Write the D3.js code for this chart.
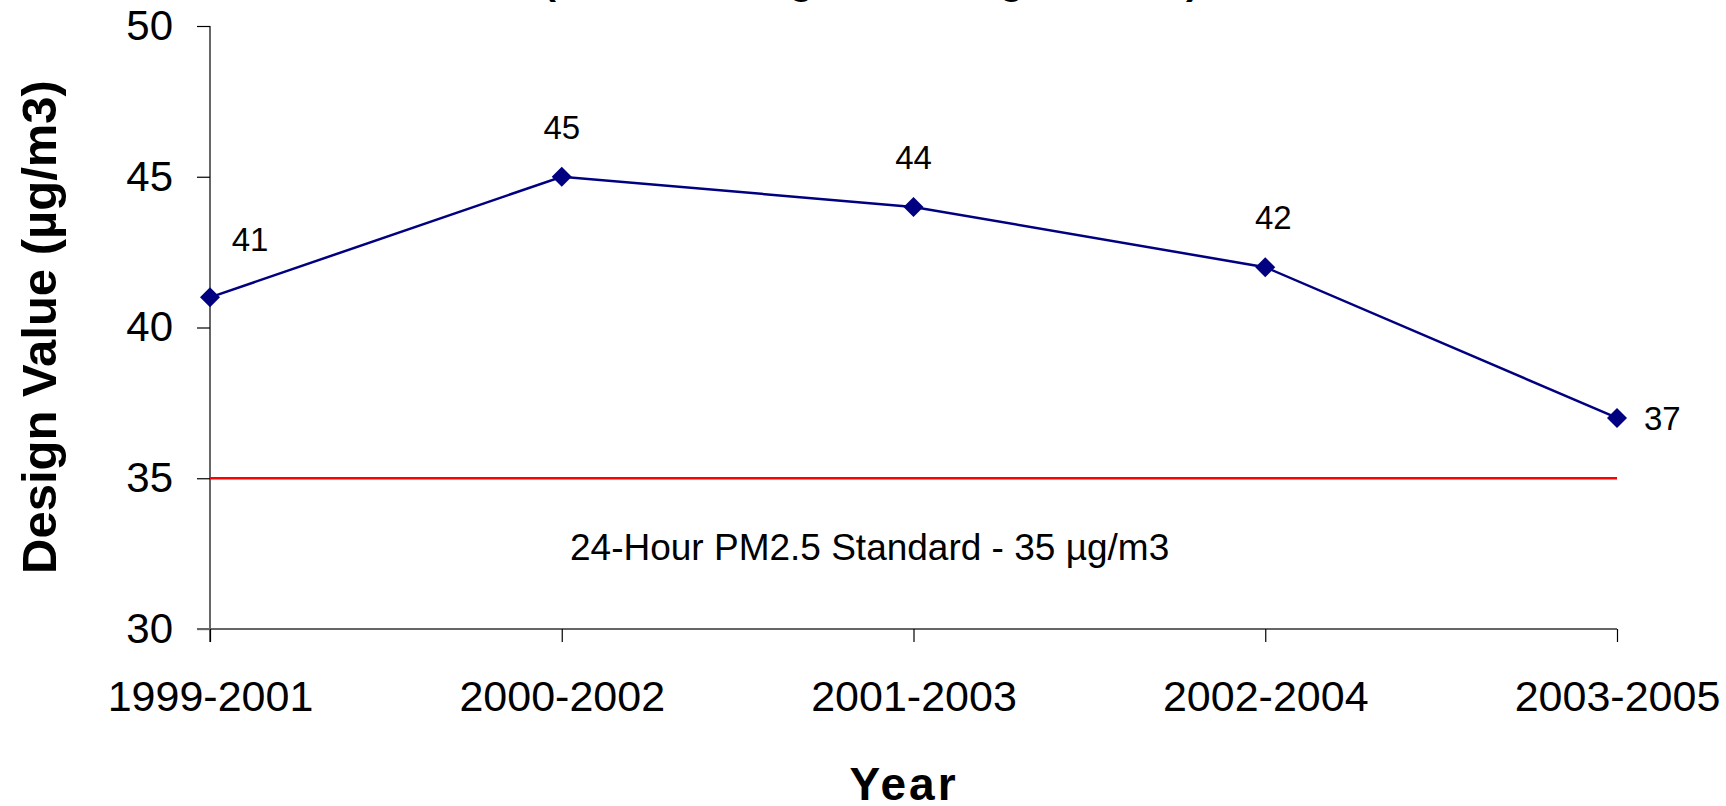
<!DOCTYPE html>
<html>
<head>
<meta charset="utf-8">
<script src="https://cdn.jsdelivr.net/npm/d3@7"></script>
<style>
  body { margin: 0; background: #fff; }
  text { font-family: "Liberation Sans", Arial, sans-serif; }
</style>
</head>
<body>
<div id="vis"></div>
<script>
var periods = ["1999-2001", "2000-2002", "2001-2003", "2002-2004", "2003-2005"];
var designValues = [41, 45, 44, 42, 37];
var yTicks = [30, 35, 40, 45, 50];
var standardValue = 35;
var standardLabel = "24-Hour PM2.5 Standard - 35 \u00b5g/m3";
var titleText = "(3-Year Average at the Highest Site)";

var W = 1726, H = 806;

var svg = d3.select("#vis")
  .append("svg")
  .attr("width", W)
  .attr("height", H);

var x = d3.scalePoint().domain(periods).range([210, 1617]).padding(0);
var y = d3.scaleLinear().domain([30, 50]).range([629, 26]);

// title, mostly cropped off the top
svg.append("text")
  .attr("x", 543)
  .attr("y", -6)
  .attr("font-size", 39)
  .attr("font-weight", "bold")
  .text(titleText);

// y axis
var yAxis = svg.append("g")
  .attr("transform", "translate(210,0)")
  .call(d3.axisLeft(y).tickValues(yTicks).tickSize(13).tickPadding(24).tickFormat(d3.format("d")));
yAxis.select(".domain").attr("stroke", "#000").attr("stroke-width", 1.2).attr("d", "M0," + y(50) + "V" + 642);
yAxis.selectAll(".tick line").attr("stroke", "#000").attr("stroke-width", 1.2);
yAxis.selectAll(".tick text").attr("font-size", 42).attr("fill", "#000")
  .attr("font-family", "Liberation Sans, Arial, sans-serif");

// x axis
var xAxis = svg.append("g")
  .attr("transform", "translate(0," + y(30) + ")")
  .call(d3.axisBottom(x).tickSize(13).tickPadding(0));
xAxis.select(".domain").attr("stroke", "#666").attr("stroke-width", 2).attr("d", "M197,0H1617");
xAxis.selectAll(".tick line").attr("stroke", "#000").attr("stroke-width", 1.2);
xAxis.selectAll(".tick text").attr("font-size", 43).attr("fill", "#000")
  .attr("font-family", "Liberation Sans, Arial, sans-serif")
  .attr("dy", null).attr("y", 82);

// standard line
svg.append("line")
  .attr("x1", x(periods[0])).attr("x2", x(periods[periods.length - 1]))
  .attr("y1", y(standardValue)).attr("y2", y(standardValue))
  .attr("stroke", "#ff0000").attr("stroke-width", 2.5);

svg.append("text")
  .attr("x", 570)
  .attr("y", y(standardValue) + 82)
  .attr("font-size", 37)
  .text(standardLabel);

// series line
var line = d3.line()
  .x(function(d, i) { return x(periods[i]); })
  .y(function(d) { return y(d); });

svg.append("path")
  .datum(designValues)
  .attr("d", line)
  .attr("fill", "none")
  .attr("stroke", "#000080")
  .attr("stroke-width", 2.5);

svg.selectAll(".pt")
  .data(designValues)
  .enter().append("path")
  .attr("class", "pt")
  .attr("transform", function(d, i) { return "translate(" + x(periods[i]) + "," + y(d) + ")"; })
  .attr("d", "M0,-10L10,0L0,10L-10,0Z")
  .attr("fill", "#000080");

// data labels
var last = designValues.length - 1;
svg.selectAll(".lbl")
  .data(designValues)
  .enter().append("text")
  .attr("class", "lbl")
  .attr("font-size", 33)
  .attr("text-anchor", function(d, i) { return i === last ? "start" : "middle"; })
  .attr("x", function(d, i) {
    if (i === last) return x(periods[i]) + 27;
    if (i === 0) return x(periods[i]) + 40;
    return x(periods[i]) + (i === 3 ? 8 : 0);
  })
  .attr("y", function(d, i) {
    if (i === last) return y(d) + 12;
    return y(d) - (i === 0 ? 46 : 38);
  })
  .text(function(d) { return d; });

// axis titles
svg.append("text")
  .attr("x", 904)
  .attr("y", 800)
  .attr("text-anchor", "middle")
  .attr("font-size", 46)
  .attr("font-weight", "bold")
  .attr("letter-spacing", 3)
  .text("Year");

svg.append("text")
  .attr("transform", "translate(56,327) rotate(-90)")
  .attr("text-anchor", "middle")
  .attr("font-size", 49)
  .attr("font-weight", "bold")
  .text("Design Value (\u00b5g/m3)");
</script>
</body>
</html>
